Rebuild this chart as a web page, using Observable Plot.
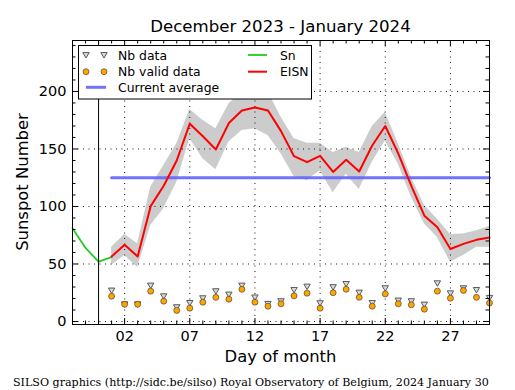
<!DOCTYPE html>
<html>
<head>
<meta charset="utf-8">
<script src="https://cdn.jsdelivr.net/npm/d3@7"></script>
<script src="https://cdn.jsdelivr.net/npm/@observablehq/plot@0.6"></script>
<style>
  html, body { margin: 0; padding: 0; background: #fff; }
  #wrap { position: relative; width: 515px; height: 390px; overflow: hidden; }
  #wrap svg { position: absolute; left: 0; top: 0; }
</style>
</head>
<body>
<div id="wrap"></div>
<script>
// ---------- data ----------
const titleText = "December 2023 - January 2024";
const xLabel = "Day of month";
const yLabel = "Sunspot Number";
const captionText = "SILSO graphics (http://sidc.be/silso) Royal Observatory of Belgium, 2024 January 30";

const snDays = [-2, -1, 0, 1];
const snValues = [81, 64, 52, 56];

const days = [1,2,3,4,5,6,7,8,9,10,11,12,13,14,15,16,17,18,19,20,21,22,23,24,25,26,27,28,29,30];
const eisnValues = [56.5,66.7,56.5,100.3,118,140,172,161,149.5,172.5,183.5,186,183.5,165.5,143.7,138.5,144,130,140.6,130.4,153,170,146,118,92,82,63,67.5,71,73];
const eisnUpper = [64.6,75.6,67.5,116.8,135.6,154.5,184.3,175,167.5,189,200,203,200,177.7,159,155,155,147,151.5,147,169.6,182,154.5,125.5,101,89,75.6,76,79,82.6];
const eisnLower = [48.7,57.4,47,83.5,98,121,159,141.5,132,156,166,167.5,161.7,146,126,122.6,131,112,128,114.8,138.5,157,137,108,85,73,51.5,57.4,64.6,64.6];

const nbData = [27,15,15,31.3,22,12.5,16.2,20.3,26.4,23.5,31.3,21,15.4,17.7,27.5,30.4,16,29.9,32.7,25.2,16.2,29,18.3,17.7,14.8,33.3,24.6,29,27.5,20.6];
const nbValid = [22,15,15,26.4,17.7,9.6,11.6,16.8,21,19.4,28,16.8,13.3,15.4,22.3,24.6,11.6,25,28,21,13.3,24,15.4,14.5,10.7,26.4,20.3,27,21,16];

const avgDays = [1, 30];
const avgValue = 125;
const monthBoundary = [0];

const xTickDays = [2, 7, 12, 17, 22, 27];
const xTickLabels = ["02", "07", "12", "17", "22", "27"];
const xMinorDays = [-1,0,1,3,4,5,6,8,9,10,11,13,14,15,16,18,19,20,21,23,24,25,26,28,29];
const yTickValues = [0, 50, 100, 150, 200];
const yMinorValues = [10,20,30,40,60,70,80,90,110,120,130,140,160,170,180,190,210,220,230,240];

const legendLeft = ["Nb data", "Nb valid data", "Current average"];
const legendRight = ["Sn", "EISN"];

// ---------- tables ----------
const snRows = snDays.map((d, i) => ({day: d, v: snValues[i]}));
const eisnRows = days.map((d, i) => ({day: d, v: eisnValues[i], hi: eisnUpper[i], lo: eisnLower[i]}));
const nbRows = days.map((d, i) => ({day: d, nb: nbData[i], valid: nbValid[i]}));
const avgRows = avgDays.map(d => ({day: d, v: avgValue}));

// ---------- layout ----------
const W = 515, H = 390, mL = 72, mR = 26, mT = 40, mB = 66;
const fw = W - mL - mR, fh = H - mT - mB;
const majorLen = 6, minorLen = 3.5;

const triDown = {
  draw(ctx, size) {
    const r = Math.sqrt(size / Math.PI);
    ctx.moveTo(-r, -0.75 * r);
    ctx.lineTo(r, -0.75 * r);
    ctx.lineTo(0, 0.95 * r);
    ctx.closePath();
  }
};

const colors = {band: "#cccccc", avg: "#6464ff", sn: "#22cc22", eisn: "#ff0000", tri: "#d8d8d8", triStroke: "#5a5a5a", dot: "#ffa500", dotStroke: "#333333"};

const chart = Plot.plot({
  width: W, height: H,
  marginLeft: mL, marginRight: mR, marginTop: mT, marginBottom: mB,
  style: {fontFamily: "DejaVu Sans", fontSize: "14.5px", color: "#000", background: "transparent", overflow: "visible"},
  x: {domain: [-2, 30]},
  y: {domain: [-2.6, 244.3]},
  marks: [
    Plot.areaY(eisnRows, {x: "day", y1: "lo", y2: "hi", fill: colors.band}),
    Plot.gridX(xTickDays, {stroke: "#000", strokeOpacity: 0.9, strokeDasharray: "1,4.5"}),
    Plot.gridY(yTickValues, {stroke: "#000", strokeOpacity: 0.9, strokeDasharray: "1,4.5"}),
    Plot.lineY(avgRows, {x: "day", y: "v", stroke: colors.avg, strokeOpacity: 0.9, strokeWidth: 3}),
    Plot.lineY(snRows, {x: "day", y: "v", stroke: colors.sn, strokeWidth: 1.8}),
    Plot.lineY(eisnRows, {x: "day", y: "v", stroke: colors.eisn, strokeWidth: 2}),
    Plot.ruleX(monthBoundary, {stroke: "#000", strokeWidth: 1}),
    Plot.dot(nbRows, {x: "day", y: "nb", symbol: triDown, r: 3.2, fill: colors.tri, stroke: colors.triStroke, strokeWidth: 1}),
    Plot.dot(nbRows, {x: "day", y: "valid", r: 3, fill: colors.dot, stroke: colors.dotStroke, strokeWidth: 0.6}),
    // inward ticks
    Plot.tickX(xTickDays, {x: d => d, insetTop: fh - majorLen, stroke: "#000"}),
    Plot.tickX(xTickDays, {x: d => d, insetBottom: fh - majorLen, stroke: "#000"}),
    Plot.tickX(xMinorDays, {x: d => d, insetTop: fh - minorLen, stroke: "#000"}),
    Plot.tickX(xMinorDays, {x: d => d, insetBottom: fh - minorLen, stroke: "#000"}),
    Plot.tickY(yTickValues, {y: d => d, insetRight: fw - majorLen, stroke: "#000"}),
    Plot.tickY(yTickValues, {y: d => d, insetLeft: fw - majorLen, stroke: "#000"}),
    Plot.tickY(yMinorValues, {y: d => d, insetRight: fw - minorLen, stroke: "#000"}),
    Plot.tickY(yMinorValues, {y: d => d, insetLeft: fw - minorLen, stroke: "#000"}),
    Plot.axisX(xTickDays, {tickSize: 0, tickPadding: 6, tickFormat: d => xTickLabels[xTickDays.indexOf(d)], label: null}),
    Plot.axisY(yTickValues, {tickSize: 0, tickPadding: 6, label: null}),
    Plot.frame({stroke: "#000", strokeWidth: 1})
  ]
});

const wrap = document.getElementById("wrap");
wrap.appendChild(chart);

// ---------- overlay: title, axis labels, caption, legend ----------
const ns = "http://www.w3.org/2000/svg";
const ov = d3.select(wrap).append("svg")
  .attr("width", W).attr("height", H)
  .attr("xmlns", ns)
  .style("pointer-events", "none")
  .style("font-family", "DejaVu Sans");

ov.append("text").attr("x", mL + fw / 2).attr("y", 32).attr("text-anchor", "middle")
  .attr("font-size", 16.6).text(titleText);
ov.append("text").attr("x", mL + fw / 2).attr("y", 362).attr("text-anchor", "middle")
  .attr("font-size", 16.4).text(xLabel);
ov.append("text").attr("transform", `translate(27.5,${mT + fh / 2}) rotate(-90)`).attr("text-anchor", "middle")
  .attr("font-size", 16.4).text(yLabel);
ov.append("text").attr("x", 13).attr("y", 386).attr("font-family", "DejaVu Serif")
  .attr("font-size", 11.1).text(captionText);

// legend
const lg = ov.append("g");
lg.append("rect").attr("x", 78.5).attr("y", 45.5).attr("width", 233).attr("height", 53.5)
  .attr("fill", "#fff").attr("stroke", "#000").attr("stroke-width", 1);
const rowY = [55, 71.7, 87.3];
const triPath = d3.symbol(triDown, Math.PI * 3.2 * 3.2)();
[86, 104].forEach(x => {
  lg.append("path").attr("d", triPath).attr("transform", `translate(${x},${rowY[0]})`)
    .attr("fill", colors.tri).attr("stroke", colors.triStroke).attr("stroke-width", 1);
  lg.append("circle").attr("cx", x).attr("cy", rowY[1]).attr("r", 3)
    .attr("fill", colors.dot).attr("stroke", colors.dotStroke).attr("stroke-width", 0.6);
});
lg.append("line").attr("x1", 86).attr("x2", 106).attr("y1", rowY[2]).attr("y2", rowY[2])
  .attr("stroke", colors.avg).attr("stroke-opacity", 0.9).attr("stroke-width", 3);
lg.append("line").attr("x1", 248).attr("x2", 267).attr("y1", rowY[0]).attr("y2", rowY[0])
  .attr("stroke", colors.sn).attr("stroke-width", 1.8);
lg.append("line").attr("x1", 248).attr("x2", 267).attr("y1", rowY[1]).attr("y2", rowY[1])
  .attr("stroke", colors.eisn).attr("stroke-width", 2);
legendLeft.forEach((t, i) => lg.append("text").attr("x", 118).attr("y", rowY[i] + 4.5)
  .attr("font-size", 12.4).text(t));
legendRight.forEach((t, i) => lg.append("text").attr("x", 280).attr("y", rowY[i] + 4.5)
  .attr("font-size", 12.4).text(t));
</script>
</body>
</html>
